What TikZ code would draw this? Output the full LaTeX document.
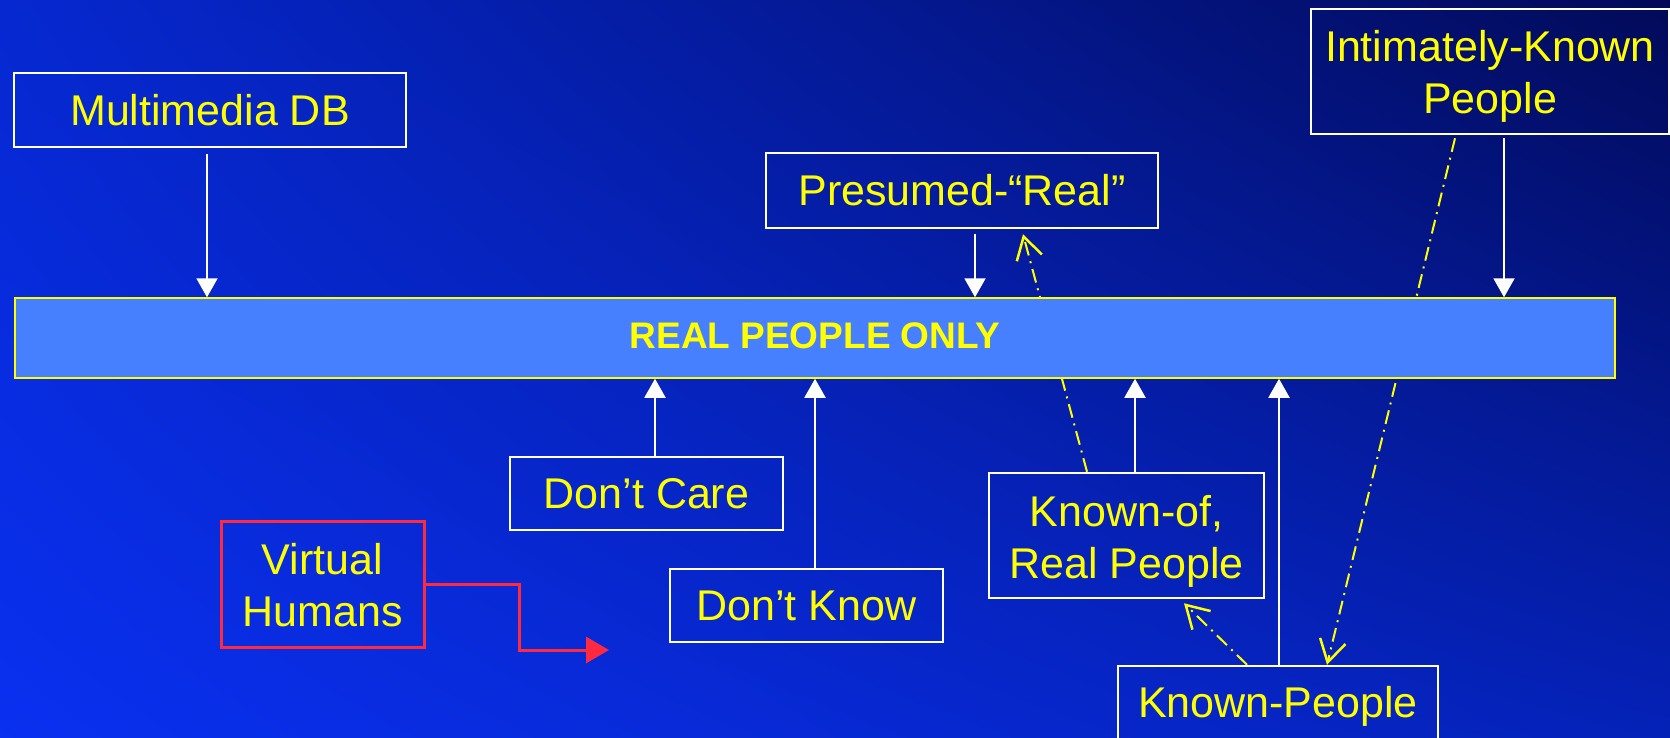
\documentclass[tikz,border=0pt]{standalone}
\usepackage{fontspec}
\setmainfont{Liberation Sans}
\usetikzlibrary{arrows.meta,shadings}
\definecolor{txtyel}{HTML}{FFFF00}
\definecolor{barblue}{HTML}{4680FF}
\definecolor{redc}{HTML}{FF2A40}
\definecolor{bgTL}{HTML}{0628D0}
\definecolor{bgBL}{HTML}{0A30F0}
\definecolor{bgTR}{HTML}{020A58}
\definecolor{bgBR}{HTML}{0522B8}
\begin{document}
\begin{tikzpicture}[x=1pt,y=-1pt,
  box/.style={draw=white,line width=2.5pt,text=txtyel,align=center,inner sep=0pt,
    font=\fontsize{43}{52}\selectfont},
  twoline/.style={text height=105pt,text depth=20pt},
  redbox/.style={box,draw=redc,line width=3pt},
  warrow/.style={draw=white,line width=2pt,-{Triangle[length=19pt,width=21pt]}},
  dd/.style={draw=txtyel,line width=2pt,dash pattern=on 14pt off 6pt on 2pt off 6pt},
  ddarrow/.style={dd,-{Straight Barb[length=22pt,width=26pt,line width=2.5pt]}},
  rarrow/.style={draw=redc,line width=3pt,-{Triangle[length=23pt,width=26pt]}}]
\shade[upper left=bgTL,lower left=bgBL,upper right=bgTR,lower right=bgBR] (0,0) rectangle (1670,738);
\useasboundingbox (0,0) rectangle (1670,738);
% nodes
\node[box,minimum width=392pt,minimum height=74pt] (mm) at (210,110) {Multimedia DB};
\node[box,twoline,minimum width=358pt] (ik) at (1490,71.5) {Intimately-Known\\People};
\node[box,minimum width=392pt,minimum height=75pt] (pr) at (962,190.5) {Presumed-“Real”};
\node[box,twoline,minimum width=275pt] (ko) at (1126.5,535.5) {Known-of,\\Real People};
\node[box,minimum width=320pt,minimum height=80pt] (kp) at (1278,706) {Known-People};
\node[box,minimum width=273pt,minimum height=73pt] (dc) at (646.5,493.5) {Don’t Care};
\node[box,minimum width=273pt,minimum height=73pt] (dk) at (806.5,605.5) {Don’t Know};
\node[redbox,text height=105pt,text depth=21pt,minimum width=203pt] (vh) at (322.5,584) {Virtual\\Humans};
% dash-dot connectors (behind bar)
\coordinate (d1s) at ([xshift=-39.5pt]ko.north);
\coordinate (d1e) at ([xshift=61pt,yshift=-5pt]pr.south);
\draw[ddarrow] (d1s) -- (d1e);
\coordinate (d2s) at ([xshift=-35pt,yshift=-3pt]ik.south);
\coordinate (d2e) at ([xshift=49pt]kp.north);
\draw[ddarrow] (d2s) -- (d2e);
\coordinate (d3s) at ([xshift=-31pt]kp.north);
\coordinate (d3e) at ([xshift=57.5pt,yshift=-4pt]ko.south);
\draw[ddarrow] (d3s) -- (d3e);
% bar
\node[draw=txtyel,line width=1.5pt,fill=barblue,minimum width=1600pt,text height=50pt,text depth=30pt,inner sep=0pt,
  text=txtyel,font=\fontsize{37}{44}\selectfont\bfseries] (bar) at (815,338) {REAL PEOPLE ONLY};
% white arrows
\coordinate (a1) at ([xshift=-3pt,yshift=-6pt]mm.south);
\draw[warrow] (a1) -- (a1 |- bar.north);
\coordinate (a2) at ([xshift=13pt,yshift=-5pt]pr.south);
\draw[warrow] (a2) -- (a2 |- bar.north);
\coordinate (a3) at ([xshift=14pt,yshift=-3pt]ik.south);
\draw[warrow] (a3) -- (a3 |- bar.north);
\coordinate (a4) at ([xshift=8.5pt]dc.north);
\draw[warrow] (a4) -- (a4 |- bar.south);
\coordinate (a5) at ([xshift=8.5pt]dk.north);
\draw[warrow] (a5) -- (a5 |- bar.south);
\coordinate (a6) at ([xshift=8.5pt]ko.north);
\draw[warrow] (a6) -- (a6 |- bar.south);
\coordinate (a7) at ([xshift=1pt]kp.north);
\draw[warrow] (a7) -- (a7 |- bar.south);
% red connector
\coordinate (vhend) at (609,650);
\draw[rarrow] (vh.east) -- ++(94,0) |- (vhend);
\end{tikzpicture}
\end{document}
